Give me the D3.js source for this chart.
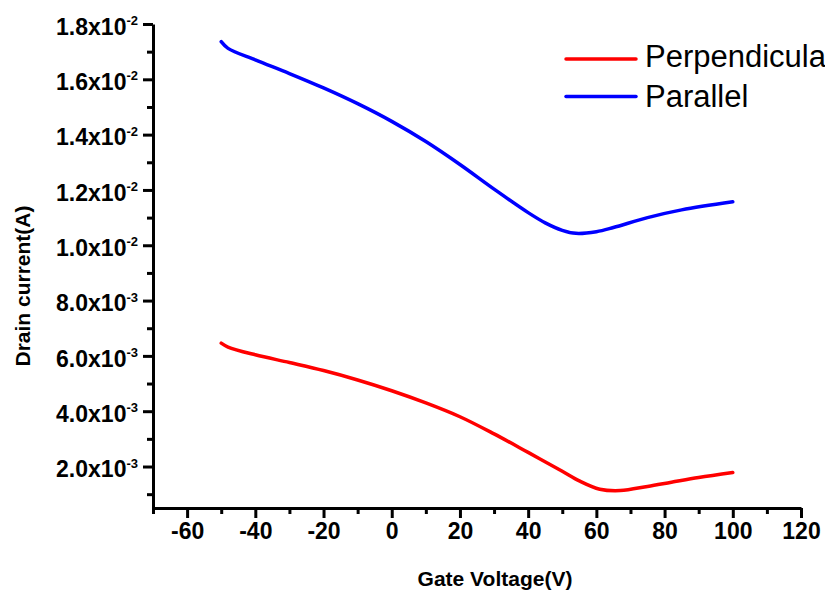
<!DOCTYPE html>
<html>
<head>
<meta charset="utf-8">
<script src="https://cdn.jsdelivr.net/npm/d3@7"></script>
<style>
  body { margin: 0; background: #fff; }
  svg { display: block; font-family: Arial, "Liberation Sans", sans-serif; }
</style>
</head>
<body>
<main></main>
<script>
// data
const seriesNames = ['Perpendicula', 'Parallel'];
const seriesColors = ['#ff0000', '#0000ff'];

const perpVoltage = [-50, -48, -40, -30, -20, -10, 0, 10, 20, 30, 40, 50, 55, 61, 67, 75, 82, 90, 100];
const perpCurrent = [0.00646, 0.00632, 0.00604, 0.00576, 0.00547, 0.00513, 0.00474, 0.00430, 0.00380,
  0.00318, 0.00251, 0.00183, 0.00148, 0.00118, 0.00113, 0.00128, 0.00143, 0.00160, 0.00178];

const paraVoltage = [-50, -48, -40, -30, -20, -10, 0, 10, 20, 30, 40, 45, 50, 54, 60, 65, 75, 85, 100];
const paraCurrent = [0.01736, 0.01712, 0.01670, 0.01621, 0.01569, 0.01512, 0.01448, 0.01375, 0.01292,
  0.01203, 0.01118, 0.01081, 0.01054, 0.01043, 0.01049, 0.01064, 0.01100, 0.01128, 0.01157];

const xTicks = [-60, -40, -20, 0, 20, 40, 60, 80, 100, 120];
const yTicks = [0.002, 0.004, 0.006, 0.008, 0.010, 0.012, 0.014, 0.016, 0.018];

// layout
const width = 825;
const height = 596;
const plotLeft = 153;
const plotRight = 801;
const plotTop = 24;
const plotBottom = 508;
const fontFamily = 'Arial, "Liberation Sans", sans-serif';

const svg = d3.select('main')
  .append('svg')
  .attr('width', width)
  .attr('height', height);

const xScale = d3.scaleLinear().domain([-70, 120]).range([plotLeft, plotRight]);
const yScale = d3.scaleLinear().domain([0.0005, 0.018]).range([plotBottom, plotTop]);

// minor ticks first (no labels)
const xMinor = d3.range(-70, 121, 10).filter(v => !xTicks.includes(v));
const yMinor = d3.range(1, 18, 2).map(v => v / 1000);

svg.append('g')
  .attr('transform', `translate(0, ${plotBottom})`)
  .call(d3.axisBottom(xScale).tickValues(xMinor).tickSize(6).tickSizeOuter(0).tickFormat(''))
  .call(g => g.select('.domain').remove())
  .selectAll('line').attr('stroke-width', 3);

svg.append('g')
  .attr('transform', `translate(${plotLeft}, 0)`)
  .call(d3.axisLeft(yScale).tickValues(yMinor).tickSize(6).tickSizeOuter(0).tickFormat(''))
  .call(g => g.select('.domain').remove())
  .selectAll('line').attr('stroke-width', 3);

// major x axis
const xAxis = svg.append('g')
  .attr('transform', `translate(0, ${plotBottom})`)
  .call(d3.axisBottom(xScale).tickValues(xTicks).tickSize(10).tickSizeOuter(0).tickPadding(5).tickFormat(d => d));
xAxis.select('.domain').attr('stroke-width', 3);
xAxis.selectAll('line').attr('stroke-width', 3);
xAxis.selectAll('text')
  .attr('font-size', 23)
  .attr('font-weight', 'bold')
  .attr('fill', '#000')
  .attr('font-family', fontFamily);

// major y axis, labels like 1.8x10^-2
const yAxis = svg.append('g')
  .attr('transform', `translate(${plotLeft}, 0)`)
  .call(d3.axisLeft(yScale).tickValues(yTicks).tickSize(10).tickSizeOuter(0).tickPadding(5).tickFormat(''));
yAxis.select('.domain').attr('stroke-width', 3);
yAxis.selectAll('line').attr('stroke-width', 3);
yAxis.selectAll('text')
  .attr('font-size', 23)
  .attr('font-weight', 'bold')
  .attr('fill', '#000')
  .attr('font-family', fontFamily)
  .attr('dy', '0.45em')
  .each(function(d) {
    const exp = Math.floor(Math.log10(d) + 1e-9);
    const mant = (d / Math.pow(10, exp)).toFixed(1);
    const t = d3.select(this);
    t.append('tspan').text(`${mant}x10`);
    t.append('tspan').attr('font-size', 13).attr('dy', '-0.75em').text(exp);
  });

// axis titles
svg.append('text')
  .text('Gate Voltage(V)')
  .attr('x', 495)
  .attr('y', 586)
  .attr('text-anchor', 'middle')
  .attr('font-size', 21)
  .attr('font-weight', 'bold');

svg.append('text')
  .text('Drain current(A)')
  .attr('transform', `translate(30, 286) rotate(-90)`)
  .attr('text-anchor', 'middle')
  .attr('font-size', 21)
  .attr('font-weight', 'bold');

// lines
const line = d3.line()
  .x(d => xScale(d[0]))
  .y(d => yScale(d[1]))
  .curve(d3.curveCatmullRom.alpha(0.5));

const seriesData = [
  d3.zip(perpVoltage, perpCurrent),
  d3.zip(paraVoltage, paraCurrent)
];

seriesData.forEach((data, i) => {
  svg.append('path')
    .datum(data)
    .attr('d', line)
    .attr('fill', 'none')
    .attr('stroke', seriesColors[i])
    .attr('stroke-width', 3.5)
    .attr('stroke-linecap', 'round');
});

// legend
const legendLineY = [59, 96.5];
const legendTextY = [67, 107];
seriesNames.forEach((name, i) => {
  svg.append('line')
    .attr('x1', 566).attr('x2', 636)
    .attr('y1', legendLineY[i]).attr('y2', legendLineY[i])
    .attr('stroke', seriesColors[i])
    .attr('stroke-width', 3.5)
    .attr('stroke-linecap', 'round');
  svg.append('text')
    .text(name)
    .attr('x', 645)
    .attr('y', legendTextY[i])
    .attr('font-size', 31);
});
</script>
</body>
</html>
